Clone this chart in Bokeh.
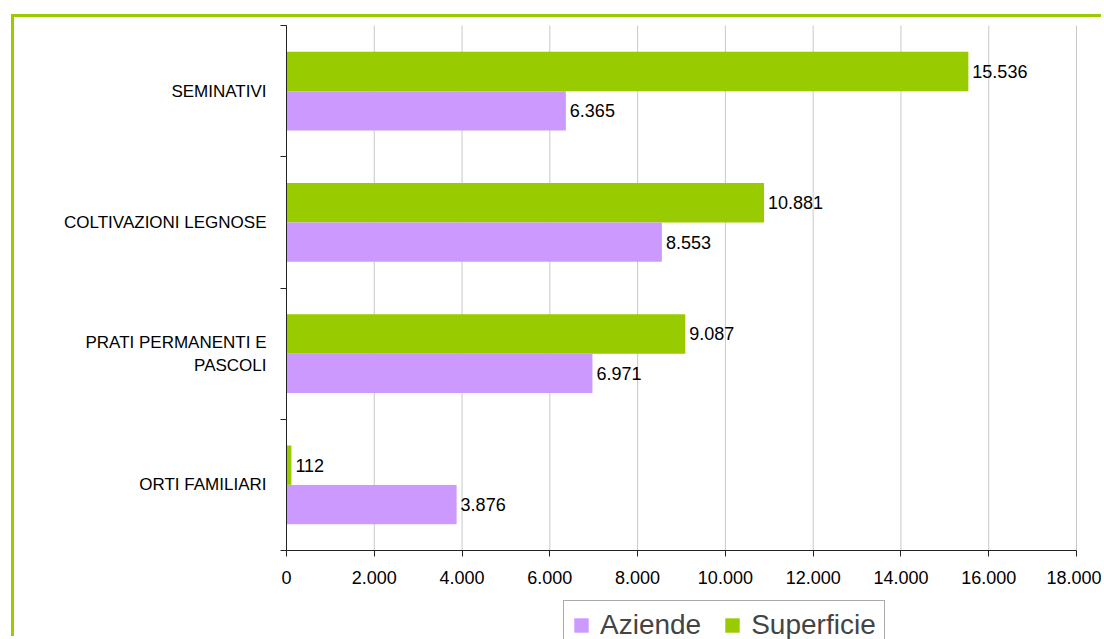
from bokeh.plotting import figure
from bokeh.models import (Range1d, LinearAxis, FixedTicker,
                          ColumnDataSource, Legend, LegendItem, LabelSet)
from bokeh.core.properties import value
from bokeh.transform import dodge
from bokeh.embed import file_html
from bokeh.resources import INLINE

categories = ["ORTI FAMILIARI", "PRATI PERMANENTI E\nPASCOLI", "COLTIVAZIONI LEGNOSE", "SEMINATIVI"]
aziende = [3876, 6971, 8553, 6365]
superficie = [112, 9087, 10881, 15536]
x_ticks = [0, 2000, 4000, 6000, 8000, 10000, 12000, 14000, 16000, 18000]
x_tick_labels = ["0", "2.000", "4.000", "6.000", "8.000", "10.000", "12.000", "14.000", "16.000", "18.000"]

GREEN = "#99CC00"
PURPLE = "#CC99FF"
FONT = "Liberation Sans"
N = len(categories)
XMAX = 18000

def fmt(v):
    return f"{v:,}".replace(",", ".")

pos = [i + 0.5 for i in range(N)]
bounds = list(range(N + 1))
src = ColumnDataSource(dict(
    pos=pos,
    az=aziende,
    su=superficie,
    az_lbl=[fmt(v) for v in aziende],
    su_lbl=[fmt(v) for v in superficie],
))

# canvas covers the chart area; the plotting frame fills the whole canvas and the
# axes are pinned at data zero so labels can sit in the margin area.
p = figure(width=1090, height=622, output_backend="svg", toolbar_location=None,
           x_range=Range1d(-6197.5, 18638), y_range=Range1d(-0.678, 4.061),
           y_axis_location=None, min_border=0,
           min_border_left=0, min_border_right=0, min_border_top=0, min_border_bottom=0)
p.outline_line_color = None
p.background_fill_color = "white"
p.border_fill_color = "white"
p.styles = {"border-left": "3px solid #99CC00", "border-top": "3px solid #99CC00",
            "margin-left": "11px", "margin-top": "14px"}
p.xgrid.visible = False
p.ygrid.visible = False

# vertical grid lines, limited to the category area
p.segment(x0=x_ticks, y0=0, x1=x_ticks, y1=N, line_color="#C8C8C8", line_width=1)

# bars
r_su = p.hbar(y=dodge("pos", 0.15), right="su", left=0, height=0.3,
              source=src, fill_color=GREEN, line_color=None)
r_az = p.hbar(y=dodge("pos", -0.15), right="az", left=0, height=0.3,
              source=src, fill_color=PURPLE, line_color=None)

p.add_layout(LabelSet(x="su", y=dodge("pos", 0.15), text="su_lbl", source=src,
                      x_offset=4, text_align="left", text_baseline="middle",
                      text_font=value(FONT), text_font_size=value("18px"), text_color="black"))
p.add_layout(LabelSet(x="az", y=dodge("pos", -0.15), text="az_lbl", source=src,
                      x_offset=4, text_align="left", text_baseline="middle",
                      text_font=value(FONT), text_font_size=value("18px"), text_color="black"))

# x axis, pinned at y = 0
xa = p.xaxis[0]
xa.fixed_location = 0
xa.bounds = (0, XMAX)
xa.ticker = FixedTicker(ticks=x_ticks)
xa.major_label_overrides = {t: l for t, l in zip(x_ticks, x_tick_labels)}
xa.major_tick_in = 0
xa.major_tick_out = 6
xa.minor_tick_line_color = None
xa.axis_line_color = "#222222"
xa.major_tick_line_color = "#222222"
xa.major_label_text_font = FONT
xa.major_label_text_font_size = "18px"
xa.major_label_text_color = "black"
xa.major_label_standoff = 14

# y axis pinned at x = 0: labels at category centres, ticks at category boundaries
ya = LinearAxis(ticker=FixedTicker(ticks=pos, minor_ticks=bounds),
                fixed_location=0, bounds=(0, N),
                major_label_overrides={k: c for k, c in zip(pos, categories)},
                axis_line_color="#222222", major_tick_line_color=None,
                major_tick_in=0, major_tick_out=6,
                minor_tick_line_color="#222222", minor_tick_in=0, minor_tick_out=6,
                major_label_text_font=FONT, major_label_text_font_size="17px",
                major_label_text_color="black", major_label_standoff=14)
p.add_layout(ya, "left")

# legend
legend = Legend(items=[LegendItem(label="Aziende", renderers=[r_az]),
                       LegendItem(label="Superficie", renderers=[r_su])],
                orientation="horizontal", location=(549, -11),
                label_text_font=FONT, label_text_font_size="28px",
                glyph_width=18, glyph_height=18, label_standoff=10, spacing=22,
                padding=8, margin=0, border_line_color="#555555", border_line_width=1,
                background_fill_color="white", background_fill_alpha=1)
p.add_layout(legend, "center")

open("out.html", "w").write(file_html(p, INLINE))
